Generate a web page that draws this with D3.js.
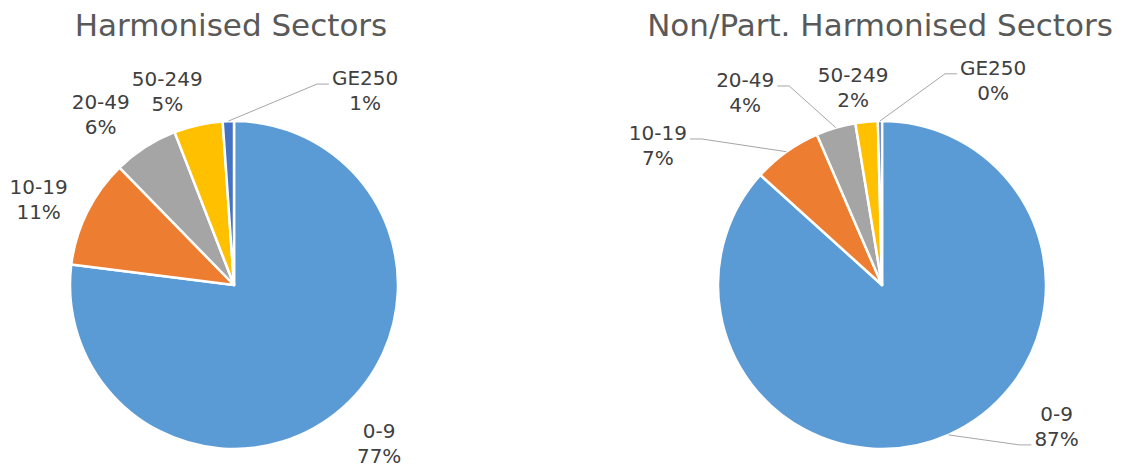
<!DOCTYPE html>
<html>
<head>
<meta charset="utf-8">
<script src="https://cdn.jsdelivr.net/npm/d3@7"></script>
<style>
	body { margin: 0; background: #fff; }
	svg { display: block; }
</style>
</head>
<body>
<svg id="chart" width="1131" height="468"></svg>
<script>
// size classes (same order in both pies)
const categories = ['0-9', '10-19', '20-49', '50-249', 'GE250'];
const colors = ['#5b9bd5', '#ed7d31', '#a5a5a5', '#ffc000', '#4472c4'];

// shares in %
const harmonised = [77.0, 10.7, 6.4, 4.8, 1.1];
const nonHarmonised = [86.7, 6.8, 3.9, 2.2, 0.4];

const titles = ['Harmonised Sectors', 'Non/Part. Harmonised Sectors'];

// layout: pie centre / radius, and where each label sits (angle deg clockwise from top, distance in radii)
const charts = [
	{
		title: titles[0], values: harmonised, cx: 234, cy: 285, r: 164, titleX: 231,
		labelAt: [[137.5, 1.31], [293.6, 1.30], [322, 1.32], [341, 1.25], [34, 1.43]],
		leader: [false, false, false, false, true]
	},
	{
		title: titles[1], values: nonHarmonised, cx: 882, cy: 285, r: 164, titleX: 880,
		labelAt: [[129, 1.37], [301.9, 1.61], [324.6, 1.44], [351.7, 1.22], [28.5, 1.42]],
		leader: [true, true, true, false, true]
	}
];

const svg = d3.select('#chart');
const font = '"DejaVu Sans", Verdana, sans-serif';

const pie = d3.pie().sort(null).startAngle(0).endAngle(2 * Math.PI);

charts.forEach((c) => {
	const g = svg.append('g').attr('transform', 'translate(' + c.cx + ',' + c.cy + ')');
	const arc = d3.arc().innerRadius(0).outerRadius(c.r);
	const arcs = pie(c.values);

	svg.append('text')
		.attr('x', c.titleX)
		.attr('y', 36)
		.attr('text-anchor', 'middle')
		.attr('font-family', font)
		.attr('font-size', 31)
		.attr('fill', '#595959')
		.text(c.title);

	g.selectAll('path.slice')
		.data(arcs)
		.enter().append('path')
		.attr('class', 'slice')
		.attr('d', arc)
		.attr('fill', (d, i) => colors[i])
		.attr('stroke', '#fff')
		.attr('stroke-width', 2.5)
		.attr('stroke-linejoin', 'round');

	const polar = (deg, rr) => {
		const a = deg * Math.PI / 180;
		return [rr * Math.sin(a), -rr * Math.cos(a)];
	};

	arcs.forEach((d, i) => {
		const [lx, ly] = polar(c.labelAt[i][0], c.labelAt[i][1] * c.r);
		const t = g.append('text')
			.attr('text-anchor', 'middle')
			.attr('font-family', font)
			.attr('font-size', 20)
			.attr('fill', '#404040');
		t.append('tspan').attr('x', lx).attr('y', ly - 12.5).attr('dy', '0.35em').text(categories[i]);
		t.append('tspan').attr('x', lx).attr('y', ly + 12.5).attr('dy', '0.35em')
			.text(Math.round(c.values[i]) + '%');

		if (!c.leader[i]) return;
		// leader: from slice edge at mid-angle to the nearer side of the label
		const mid = (d.startAngle + d.endAngle) / 2 * 180 / Math.PI;
		const [ax, ay] = polar(mid, c.r);
		const w = t.node().getBBox().width;
		const right = lx > ax;
		const ex = right ? lx - w / 2 - 3 : lx + w / 2 + 3;
		const ey = (ly > 0 ? ly + 12.5 : ly - 12.5) + 6;
		const bx = right ? ex - 12 : ex + 12;
		g.insert('path', 'text')
			.attr('d', d3.line()([[ax, ay], [bx, ey], [ex, ey]]))
			.attr('fill', 'none')
			.attr('stroke', '#a6a6a6')
			.attr('stroke-width', 1);
	});
});
</script>
</body>
</html>
